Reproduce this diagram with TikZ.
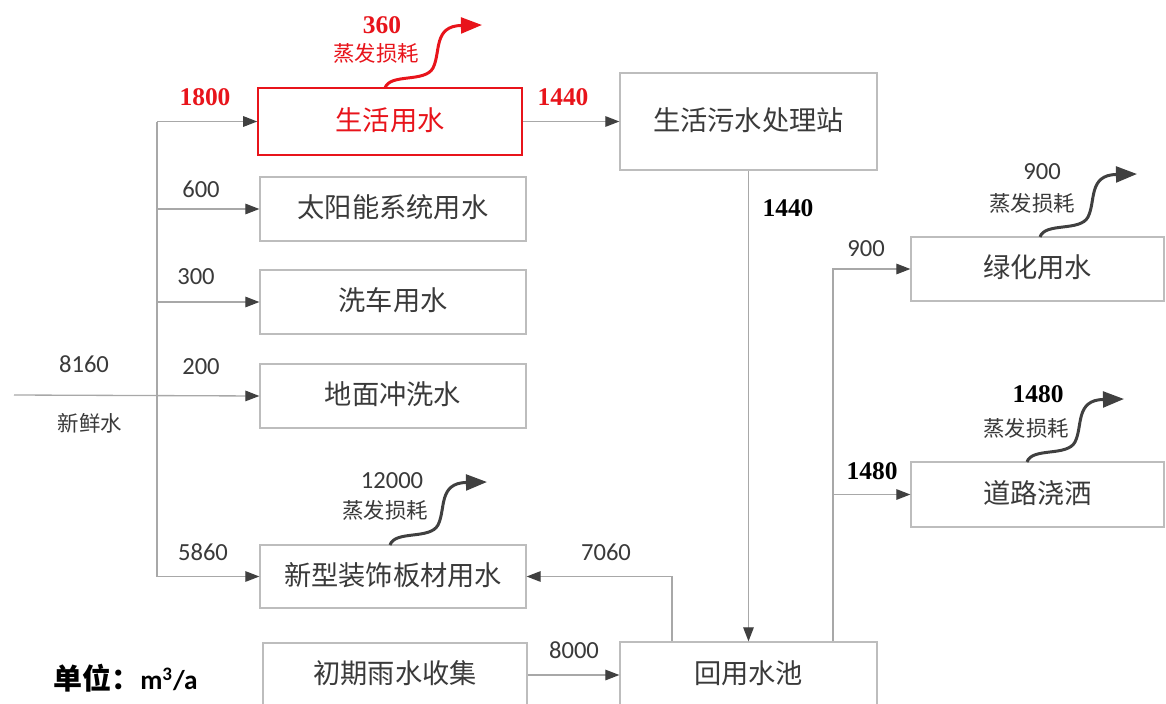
\documentclass[tikz,border=0pt]{standalone}
\usepackage{fontspec}
\setmainfont{Carlito}
\newfontfamily\cjk{Noto Sans CJK SC}
\newfontfamily\tnr{Liberation Serif}
\usetikzlibrary{arrows.meta}
\definecolor{txt}{HTML}{3A3A3A}
\definecolor{bordr}{HTML}{BDBDBD}
\definecolor{lnc}{HTML}{A8A8A8}
\definecolor{tipc}{HTML}{404040}
\definecolor{redc}{HTML}{E8141B}
\newcommand\wavypath{(0,0) .. controls (5,-15) and (40,-5) .. (48,-20) .. controls (56,-36) and (48,-62) .. (97,-63)}
\tikzset{
  box/.style={draw=bordr, line width=0.75pt, inner sep=0pt, font=\cjk\fontsize{15.5}{16}\selectfont, text=txt, text height=12pt, text depth=2pt},
  redbox/.style={box, draw=redc, line width=0.9pt, text=redc},
  conn/.style={draw=lnc, line width=0.75pt},
  arr/.style={conn, -{Triangle[length=8pt,width=6pt,color=tipc,fill=tipc]}},
  evap/.style={draw=tipc, line width=1.7pt, -{Triangle[length=12pt,width=9pt]}},
  num/.style={font=\fontsize{14}{16}\selectfont, text=txt, inner sep=0pt},
  bnum/.style={font=\tnr\bfseries\fontsize{14.5}{16}\selectfont, text=black, inner sep=0pt},
  small/.style={font=\cjk\fontsize{12.2}{14}\selectfont, text=txt, inner sep=0pt}
}
\begin{document}
\begin{tikzpicture}[x=0.02cm, y=-0.02cm]
\useasboundingbox (0,0) rectangle (1166,703);
\clip (0,0) rectangle (1166,703);
\fill[white] (0,0) rectangle (1166,703);

% boxes
\node[redbox, minimum width=5.28cm, minimum height=1.34cm] (shy) at (390,121.5) {生活用水};
\node[box, minimum width=5.32cm, minimum height=1.28cm] (tyn) at (393,209) {太阳能系统用水};
\node[box, minimum width=5.32cm, minimum height=1.28cm] (xc) at (393,302) {洗车用水};
\node[box, minimum width=5.32cm, minimum height=1.28cm] (dm) at (393,396) {地面冲洗水};
\node[box, minimum width=5.32cm, minimum height=1.26cm] (xx) at (393,576.5) {新型装饰板材用水};
\node[box, minimum width=5.28cm, minimum height=1.28cm] (cq) at (395,675) {初期雨水收集};
\node[box, minimum width=5.14cm, minimum height=1.94cm] (wst) at (748.5,121.5) {生活污水处理站};
\node[box, minimum width=5.14cm, minimum height=1.32cm] (hy) at (748.5,675) {回用水池};
\node[box, minimum width=5.06cm, minimum height=1.28cm] (lh) at (1037.5,269) {绿化用水};
\node[box, minimum width=5.06cm, minimum height=1.30cm] (dl) at (1037.5,494.5) {道路浇洒};

% fresh water trunk
\coordinate (src) at (14,395);
\coordinate (tx) at (157,0);
\draw[conn] (tx |- shy.west) -- (tx |- xx.west);
\draw[arr] (src) -- (dm.west);
\draw[arr] (tx |- shy.west) -- (shy.west);
\draw[arr] (tx |- tyn.west) -- (tyn.west);
\draw[arr] (tx |- xc.west) -- (xc.west);
\draw[arr] (tx |- xx.west) -- (xx.west);

% domestic to treatment
\draw[arr] (shy.east) -- (shy.east -| wst.west);
\draw[arr] (wst.south) -- (hy.north);
\draw[arr] (cq.east) -- (hy.west);
\coordinate (c7) at (672,0);
\draw[arr] (c7 |- hy.north) |- (xx.east);
\coordinate (cr) at (833,0);
\draw[arr] (cr |- hy.north) |- (lh.west);
\draw[arr] (cr |- dl.west) -- (dl.west);

% evaporation arrows
\begin{scope}[shift={(385,88)}]
  \draw[evap, draw=redc] \wavypath;
\end{scope}
\begin{scope}[shift={(390,545)}]
  \draw[evap] \wavypath;
\end{scope}
\begin{scope}[shift={(1040,237)}]
  \draw[evap] \wavypath;
\end{scope}
\begin{scope}[shift={(1027,462)}]
  \draw[evap] \wavypath;
\end{scope}

% labels
\node[bnum, text=redc] (l1800) at (205,97) {1800};
\node[num] (l600) at (201,189) {600};
\node[num] (l300) at (196,277) {300};
\node[num] (l200) at (201,367) {200};
\node[num] (l5860) at (203,552) {5860};
\node[num] (l8160) at (84,364) {8160};
\node[small] (lxxs) at (90,423) {新鲜水};
\node[bnum, text=redc] (l360) at (382,25) {360};
\node[small, text=redc] (lz1) at (376,53) {蒸发损耗};
\node[bnum, text=redc] (l1440a) at (563,97) {1440};
\node[bnum] (l1440b) at (788,208) {1440};
\node[num] (l900a) at (866,249) {900};
\node[bnum] (l1480a) at (872,471) {1480};
\node[num] (l900b) at (1042,172) {900};
\node[small] (lz2) at (1032,203) {蒸发损耗};
\node[bnum] (l1480b) at (1038,394) {1480};
\node[small] (lz3) at (1026,428) {蒸发损耗};
\node[num] (l12000) at (392,481) {12000};
\node[small] (lz4) at (385,510) {蒸发损耗};
\node[num] (l7060) at (606,552) {7060};
\node[num] (l8000) at (574,650) {8000};
\node[anchor=west, inner sep=0pt, text=black] (unit) at (53,678) {{\cjk\bfseries\fontsize{16.5}{18}\selectfont 单位：}{\bfseries\fontsize{15.5}{18}\selectfont m\textsuperscript{3}/a}};
\end{tikzpicture}
\end{document}
